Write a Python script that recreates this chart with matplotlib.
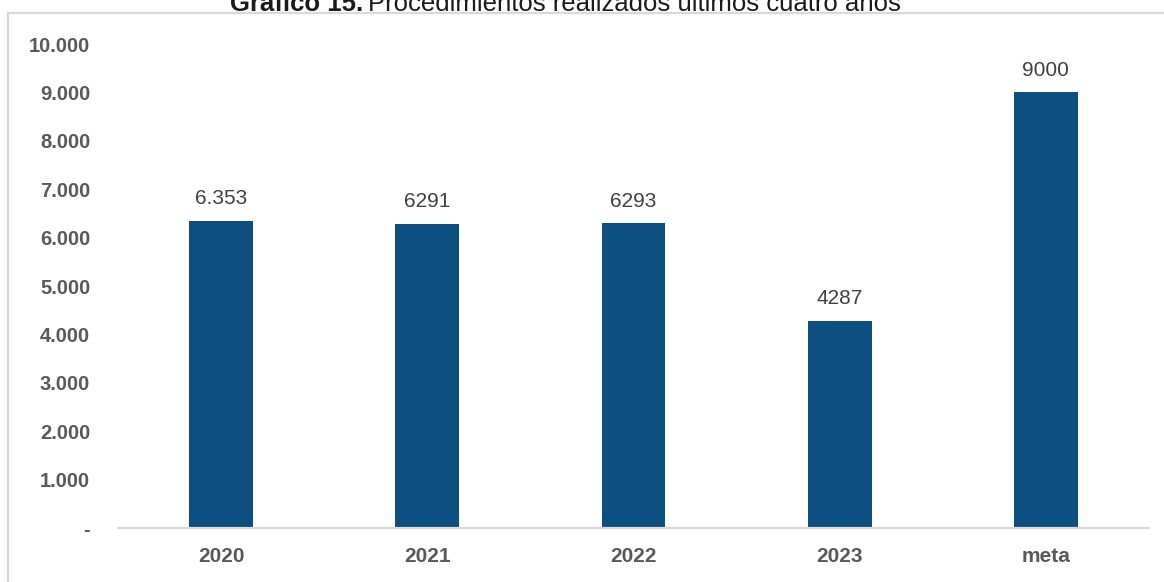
import matplotlib
matplotlib.use("Agg")
import matplotlib.pyplot as plt
from matplotlib.patches import Rectangle

plt.rcParams['font.family'] = ['Liberation Sans Narrow', 'Liberation Sans', 'DejaVu Sans']

categories = ["2020", "2021", "2022", "2023", "meta"]
values = [6353, 6291, 6293, 4287, 9000]
value_labels = ["6.353", "6291", "6293", "4287", "9000"]
y_ticks = [0, 1000, 2000, 3000, 4000, 5000, 6000, 7000, 8000, 9000, 10000]
y_tick_labels = ["-", "1.000", "2.000", "3.000", "4.000", "5.000",
                 "6.000", "7.000", "8.000", "9.000", "10.000"]

W, H = 1164, 582
fig = plt.figure(figsize=(W / 100, H / 100), dpi=100)

# light frame around the chart (open on the right and bottom)
fig.patches.append(Rectangle((8 / W, -0.05), 1.2, 1 - 13 / H + 0.05,
                             transform=fig.transFigure, fill=False,
                             edgecolor="#d9d9d9", linewidth=1.6))

ax = fig.add_axes([118 / W, (H - 528) / H, (1149 - 118) / W, (528 - 44) / H])
x = range(len(categories))
ax.bar(x, values, width=0.31, color="#0e4f82")
ax.set_xlim(-0.5, len(categories) - 0.5)
ax.set_ylim(0, 10000)

for xi, v, lab in zip(x, values, value_labels):
    ax.annotate(lab, (xi, v), xytext=(0, 9), textcoords="offset points",
                ha="center", va="bottom", fontsize=15, color="#404040")

ax.set_yticks(y_ticks)
ax.set_yticklabels(y_tick_labels, fontsize=14.5, fontweight="bold", color="#595959")
ax.set_xticks(list(x))
ax.set_xticklabels(categories, fontsize=15, fontweight="bold", color="#595959")
ax.tick_params(axis="both", length=0)
ax.tick_params(axis="y", pad=20)
ax.tick_params(axis="x", pad=14)

for side in ["top", "right", "left"]:
    ax.spines[side].set_visible(False)
ax.spines["bottom"].set_color("#d9d9d9")
ax.spines["bottom"].set_linewidth(1.6)

# title: bold prefix followed by regular text
t1 = fig.text(230 / W, 1 - 11 / H, "Gráfico 15.", fontsize=18.5, fontweight="bold",
              color="#1a1a1a", ha="left", va="baseline")
fig.canvas.draw()
bb = t1.get_window_extent()
fig.text((bb.x1 + 5) / W, 1 - 11 / H, "Procedimientos realizados últimos cuatro años",
         fontsize=18.5, color="#1a1a1a", ha="left", va="baseline")

fig.savefig("out.png", dpi=100)
